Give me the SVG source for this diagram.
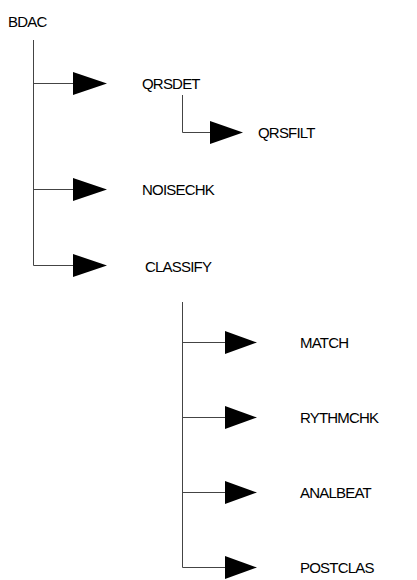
<svg xmlns="http://www.w3.org/2000/svg" width="417" height="580" viewBox="0 0 417 580">
<style>
.t{font-family:"Liberation Sans",Arial,sans-serif;font-size:15px;fill:#000;letter-spacing:-0.8px}
.l{stroke:#444;stroke-width:1;fill:none}
.a{fill:#000;stroke:none}
</style>
<rect width="417" height="580" fill="#fff"/>
<g id="connectors">
<path class="l" d="M33.5,40V265.5H73M33.5,83.5H73M33.5,189.5H73"/>
<polygon class="a" points="73,72 107,83.5 73,95"/>
<polygon class="a" points="73,178 107,189.5 73,201"/>
<polygon class="a" points="73,254 107,265.5 73,277"/>
<path class="l" d="M182.5,95V132.5H210"/>
<polygon class="a" points="210,121 243,132.5 210,144"/>
<path class="l" d="M182.5,302V567.5H225M182.5,342.5H225M182.5,417.5H225M182.5,492.5H225"/>
<polygon class="a" points="225,331 257,342.5 225,354"/>
<polygon class="a" points="225,406 257,417.5 225,429"/>
<polygon class="a" points="225,481 257,492.5 225,504"/>
<polygon class="a" points="225,556 257,567.5 225,579"/>
</g>
<g id="BDAC"><text class="t" x="8" y="27">BDAC</text></g>
<g id="QRSDET"><text class="t" x="142" y="88.5">QRSDET</text></g>
<g id="QRSFILT"><text class="t" x="258" y="137.5">QRSFILT</text></g>
<g id="NOISECHK"><text class="t" x="142" y="194.5">NOISECHK</text></g>
<g id="CLASSIFY"><text class="t" x="145" y="271.5">CLASSIFY</text></g>
<g id="MATCH"><text class="t" x="300" y="347.5">MATCH</text></g>
<g id="RYTHMCHK"><text class="t" x="300" y="422.5">RYTHMCHK</text></g>
<g id="ANALBEAT"><text class="t" x="300" y="498">ANALBEAT</text></g>
<g id="POSTCLAS"><text class="t" x="300" y="573">POSTCLAS</text></g>
</svg>
